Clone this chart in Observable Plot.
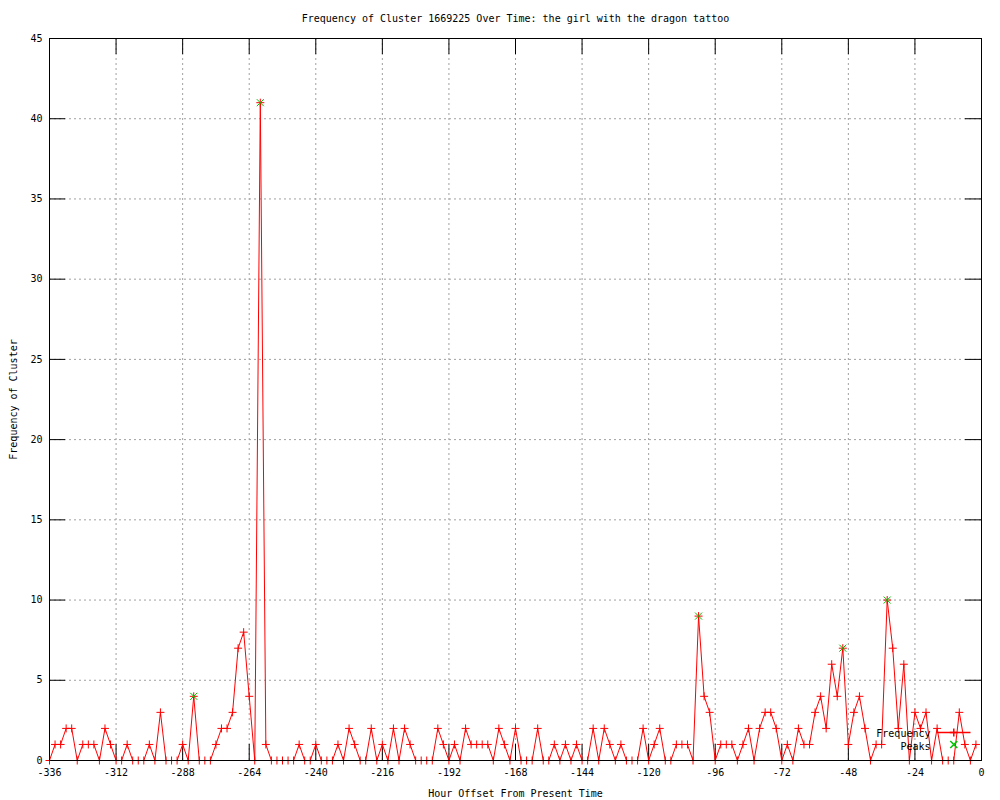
<!DOCTYPE html>
<html><head><meta charset="utf-8">
<script src="https://cdn.jsdelivr.net/npm/d3@7"></script>
<script src="https://cdn.jsdelivr.net/npm/@observablehq/plot@0.6"></script>
<style>body{margin:0;background:#fff} svg{display:block}</style>
</head><body><div id="chart"></div>
<script>
// ---- data ----
const titleText = "Frequency of Cluster 1669225 Over Time: the girl with the dragon tattoo";
const xLabel = "Hour Offset From Present Time";
const yLabel = "Frequency of Cluster";
const hourStart = -336;
const hourStep = 2;
const frequency = [
  0,1,1,2,2,0,1,1,1,0,
  2,1,0,0,1,0,0,0,1,0,
  3,0,0,0,1,0,4,0,0,0,
  1,2,2,3,7,8,4,0,41,1,
  0,0,0,0,0,1,0,0,1,0,
  0,0,1,0,2,1,0,0,2,0,
  1,0,2,0,2,1,0,0,0,0,
  2,1,0,1,0,2,1,1,1,1,
  0,2,1,0,2,0,0,0,2,0,
  0,1,0,1,0,1,0,0,2,0,
  2,1,0,1,0,0,0,2,0,1,
  2,0,0,1,1,1,0,9,4,3,
  0,1,1,1,0,1,2,0,2,3,
  3,2,0,1,0,2,1,1,3,4,
  2,6,4,7,1,3,4,2,0,1,
  1,10,7,2,6,0,3,2,3,0,
  2,0,0,0,3,1,0,1
];
const peakHours = [-284, -260, -102, -50, -34];
const peakValues = [4, 41, 9, 7, 10];
const xTicks = [-336,-312,-288,-264,-240,-216,-192,-168,-144,-120,-96,-72,-48,-24,0];
const yTicks = [0,5,10,15,20,25,30,35,40,45];
const legendLabels = ["Frequency", "Peaks"];

// ---- tables ----
const freqData = frequency.map((v, i) => ({hour: hourStart + i * hourStep, value: v}));
const peakData = peakHours.map((h, i) => ({hour: h, value: peakValues[i]}));

// ---- stroked symbols (gnuplot style) ----
const plusSym = {draw(ctx, size) {const r = Math.sqrt(size / Math.PI); ctx.moveTo(-r, 0); ctx.lineTo(r, 0); ctx.moveTo(0, -r); ctx.lineTo(0, r);}};
const timesSym = {draw(ctx, size) {const r = Math.sqrt(size / Math.PI); ctx.moveTo(-r, -r); ctx.lineTo(r, r); ctx.moveTo(-r, r); ctx.lineTo(r, -r);}};
const hlineSym = {draw(ctx, size) {const r = Math.sqrt(size / Math.PI); ctx.moveTo(-r, 0); ctx.lineTo(r, 0);}};

const RED = "#ff0000", GREEN = "#00c000", GRID = "#a0a0a0";
const FONT = "DejaVu Sans Mono";

const chart = Plot.plot({
  width: 1000,
  height: 800,
  marginLeft: 49,
  marginRight: 19,
  marginTop: 38,
  marginBottom: 40,
  style: {fontFamily: FONT, fontSize: "10px", background: "#fff", color: "#000"},
  x: {domain: [-336, 0]},
  y: {domain: [0, 45]},
  marks: [
    // grid
    Plot.ruleX(xTicks, {stroke: GRID, strokeDasharray: "2,3", strokeWidth: 1}),
    Plot.ruleY(yTicks, {stroke: GRID, strokeDasharray: "2,3", strokeWidth: 1}),
    // inward mirrored ticks
    Plot.tickX(xTicks, {x: d => d, insetTop: 706, stroke: "#000"}),
    Plot.tickX(xTicks, {x: d => d, insetBottom: 706, stroke: "#000"}),
    Plot.tickY(yTicks, {y: d => d, insetRight: 916, stroke: "#000"}),
    Plot.tickY(yTicks, {y: d => d, insetLeft: 916, stroke: "#000"}),
    // axes labels
    Plot.axisX(xTicks, {tickSize: 0, tickPadding: 8, fontSize: 10, label: null, tickFormat: d => String(d)}),
    Plot.axisY(yTicks, {tickSize: 0, tickPadding: 7, fontSize: 10, label: null, tickFormat: d => String(d)}),
    // data
    Plot.line(freqData, {x: "hour", y: "value", stroke: RED, strokeWidth: 1}),
    Plot.dot(freqData, {x: "hour", y: "value", symbol: plusSym, r: 4, stroke: RED, fill: "none", strokeWidth: 1}),
    Plot.dot(peakData, {x: "hour", y: "value", symbol: timesSym, r: 3.5, stroke: GREEN, fill: "none", strokeWidth: 1}),
    // frame
    Plot.frame({stroke: "#000", strokeWidth: 1}),
    // titles
    Plot.text([titleText], {frameAnchor: "top", dy: -20, lineAnchor: "middle", fontSize: 10, fill: "#000"}),
    Plot.text([xLabel], {frameAnchor: "bottom", dy: 33, lineAnchor: "middle", fontSize: 10, fill: "#000"}),
    Plot.text([yLabel], {frameAnchor: "left", dx: -36, rotate: -90, textAnchor: "middle", lineAnchor: "middle", fontSize: 10, fill: "#000"}),
    // legend
    Plot.text([legendLabels[0]], {frameAnchor: "bottom-right", dx: -51, dy: -27, textAnchor: "end", lineAnchor: "middle", fontSize: 10, fill: "#000"}),
    Plot.text([legendLabels[1]], {frameAnchor: "bottom-right", dx: -51, dy: -14, textAnchor: "end", lineAnchor: "middle", fontSize: 10, fill: "#000"}),
    Plot.dot([legendLabels[0]], {frameAnchor: "bottom-right", dx: -27.7, dy: -28, symbol: hlineSym, r: 16.7, stroke: RED, fill: "none"}),
    Plot.dot([legendLabels[0]], {frameAnchor: "bottom-right", dx: -27.7, dy: -28, symbol: plusSym, r: 4, stroke: RED, fill: "none"}),
    Plot.dot([legendLabels[1]], {frameAnchor: "bottom-right", dx: -27.7, dy: -16, symbol: timesSym, r: 3.5, stroke: GREEN, fill: "none"})
  ]
});
document.getElementById("chart").appendChild(chart);
</script>
</body></html>
